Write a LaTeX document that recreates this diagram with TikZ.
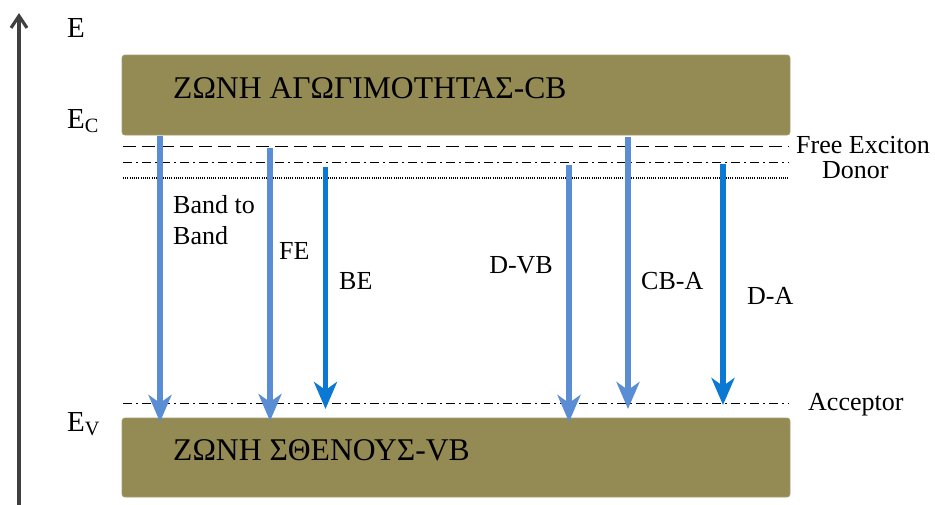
\documentclass[tikz,border=0pt]{standalone}
\usepackage{fontspec}
\setmainfont{Liberation Serif}
\usetikzlibrary{arrows.meta}

\definecolor{bandolive}{HTML}{948A54}
\definecolor{lightarrow}{HTML}{5A8DD3}
\definecolor{darkarrow}{HTML}{0B79D3}
\definecolor{axisgray}{HTML}{404040}

\tikzset{
  band/.style={fill=bandolive, draw=bandolive!85!white, line width=0.8pt, rounded corners=3pt},
  bandtext/.style={anchor=base west, inner sep=0pt, font=\fontsize{31.6}{36}\selectfont},
  lbl/.style={anchor=base west, inner sep=0pt, font=\fontsize{26}{30}\selectfont},
  elbl/.style={anchor=base west, inner sep=0pt, font=\fontsize{29}{34}\selectfont},
  level/.style={line width=1.5pt, black},
  fedash/.style={level, dash pattern=on 13pt off 6pt},
  dotdash/.style={level, dash pattern=on 9pt off 4pt on 2pt off 4pt},
  finedots/.style={level, line width=1.1pt, dash pattern=on 1pt off 1.2pt},
  trans/.style={line width=5.5pt, -{Stealth[length=27pt, width=23pt, inset=8pt]}},
  lighttrans/.style={trans, lightarrow},
  darktrans/.style={trans, darkarrow},
}

\begin{document}
\begin{tikzpicture}[x=1pt, y=-1pt]
\useasboundingbox (0,0) rectangle (935,504);

% energy axis
\coordinate (axbot) at (19,506);
\coordinate (axtop) at (19,13);
\draw[axisgray, line width=3.2pt, -{Straight Barb[length=12pt, width=16pt, line width=3.2pt]}] (axbot) -- (axtop);
\node[elbl] (E) at (67,37) {E};
\node[elbl] (EC) at (67,128) {E\textsubscript{C}};
\node[elbl] (EV) at (67,431) {E\textsubscript{V}};

% bands
\draw[band] (122,55) rectangle (790,135);
\draw[band] (122,418) rectangle (790,497);
\node[bandtext] (cb) at (173,98) {ΖΩΝΗ ΑΓΩΓΙΜΟΤΗΤΑΣ-CB};
\node[bandtext] (vb) at (173,460) {ΖΩΝΗ ΣΘΕΝΟΥΣ-VB};

% impurity and exciton levels
\coordinate (feL) at (123,146.5);   \coordinate (feR) at (789,146.5);
\coordinate (dnL) at (123,162.5);   \coordinate (dnR) at (789,162.5);
\coordinate (dtL) at (123,178);     \coordinate (dtR) at (789,178);
\coordinate (acL) at (123,403.5);   \coordinate (acR) at (789,403.5);
\draw[fedash] (feL) -- (feR);
\draw[dotdash] (dnL) -- (dnR);
\draw[finedots] (dtL) -- (dtR);
\draw[dotdash] (acL) -- (acR);

\node[lbl] (fe) at (796,153) {Free Exciton};
\node[lbl] (don) at (822,178) {Donor};
\node[lbl] (acc) at (808,410) {Acceptor};

% recombination transitions
\coordinate (a1s) at (160,136);   \coordinate (a1e) at (160,422);
\coordinate (a2s) at (270,148);   \coordinate (a2e) at (270,421);
\coordinate (a3s) at (325.5,167); \coordinate (a3e) at (325.5,409);
\coordinate (a4s) at (569,165);   \coordinate (a4e) at (569,422);
\coordinate (a5s) at (628,137);   \coordinate (a5e) at (628,409);
\coordinate (a6s) at (723,164);   \coordinate (a6e) at (723,405);
\draw[lighttrans] (a1s) -- (a1e);
\draw[lighttrans] (a2s) -- (a2e);
\draw[darktrans]  (a3s) -- (a3e);
\draw[lighttrans] (a4s) -- (a4e);
\draw[lighttrans] (a5s) -- (a5e);
\draw[darktrans]  (a6s) -- (a6e);

\node[lbl] (bb1) at (173,213) {Band to};
\node[lbl] (bb2) at (173,244) {Band};
\node[lbl] (lfe) at (279,259) {FE};
\node[lbl] (lbe) at (339,289) {BE};
\node[lbl, anchor=base east] (ldvb) at (553,273) {D-VB};
\node[lbl] (lcba) at (641,289) {CB-A};
\node[lbl] (lda) at (747,304) {D-A};
\end{tikzpicture}
\end{document}
